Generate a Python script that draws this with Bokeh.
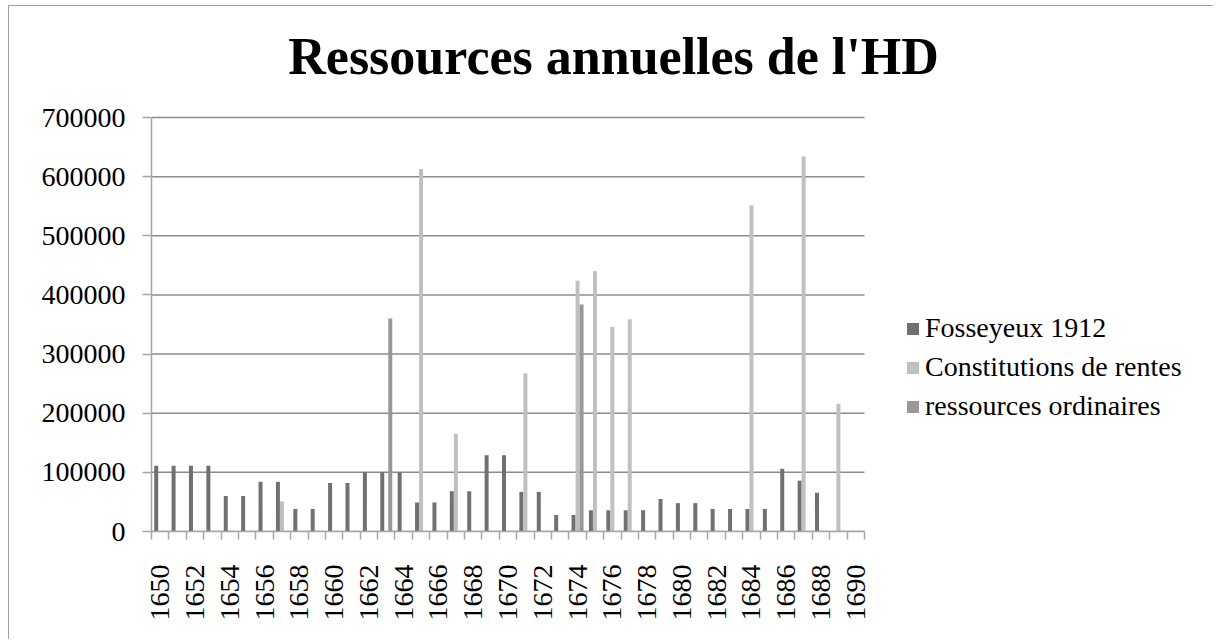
import math
from bokeh.plotting import figure
from bokeh.models import (ColumnDataSource, Range1d, FixedTicker, Legend, LegendItem,
                          BasicTickFormatter, Label)
from bokeh.transform import dodge
from bokeh.embed import file_html
from bokeh.resources import INLINE

nan = float("nan")

years = list(range(1650, 1691))
fosseyeux = [111000, 111000, 111000, 111000, 60000, 60000, 84000, 84000, 38000, 38000,
             82000, 82000, 100000, 100000, 100000, 49000, 49000, 68000, 68000, 129000,
             129000, 67000, 67000, 28000, 28000, 36000, 36000, 36000, 36000, 55000,
             48000, 48000, 38000, 38000, 38000, 38000, 106000, 86000, 65500, nan, nan]
rentes = {1657: 51000, 1665: 613000, 1667: 165000, 1671: 267000, 1674: 424000,
          1675: 440000, 1676: 346000, 1677: 359000, 1684: 551000, 1687: 634000,
          1689: 216000}
ordinaires = {1663: 360000, 1674: 384000}

series_names = ["Fosseyeux 1912", "Constitutions de rentes", "ressources ordinaires"]
series_colors = ["#707070", "#c0c0c0", "#989898"]
y_ticks = list(range(0, 700001, 100000))
x_label_years = list(range(1650, 1691, 2))
title_text = "Ressources annuelles de l'HD"

src = ColumnDataSource(dict(
    year=years,
    fos=fosseyeux,
    ren=[rentes.get(y, nan) for y in years],
    ordi=[ordinaires.get(y, nan) for y in years],
))

FONT = "Liberation Serif"

# ---- layout (pixels) ----
W, H = 1205, 634
BL, BR, BT, BB = 142, 5, 0, 109      # borders around the frame
PLOT_W = 713                         # width of the visible plot area
PLOT_TOP = 111                       # canvas y of the top of the value axis
frame_w = W - BL - BR
frame_h = H - BT - BB
x0, x1 = years[0] - 0.5, years[-1] + 0.5
y_max = y_ticks[-1]
x_end = x0 + (x1 - x0) * frame_w / PLOT_W
y_end = y_max * frame_h / (frame_h - (PLOT_TOP - BT))

p = figure(width=W, height=H, output_backend="svg", toolbar_location=None,
           x_range=Range1d(x0, x_end), y_range=Range1d(0, y_end),
           min_border_left=BL, min_border_right=BR, min_border_top=BT,
           min_border_bottom=BB)
p.styles = {"margin-left": "8px", "margin-top": "5px",
            "border-left": "1px solid #a0a0a0", "border-top": "1px solid #a0a0a0"}
p.outline_line_color = None
p.background_fill_color = "white"
p.border_fill_color = "white"
p.xgrid.visible = False
p.ygrid.visible = False

# horizontal gridlines limited to the plot area
p.segment(x0=[x0] * len(y_ticks), x1=[x1] * len(y_ticks), y0=y_ticks, y1=y_ticks,
          line_color="#8c8c8c", line_width=1.5)

bw = 0.23
renderers = []
for col, off, color in zip(["fos", "ren", "ordi"], [-bw, 0.0, bw], series_colors):
    r = p.vbar(x=dodge("year", off, range=p.x_range), top=col, width=bw, source=src,
               fill_color=color, line_color=None)
    renderers.append(r)

# y axis
ya = p.yaxis[0]
ya.bounds = (0, y_max)
ya.ticker = FixedTicker(ticks=y_ticks)
ya.formatter = BasicTickFormatter(use_scientific=False)
ya.axis_line_color = "#a6a6a6"
ya.axis_line_width = 1.5
ya.major_tick_line_color = "#a6a6a6"
ya.major_tick_line_width = 1.5
ya.major_tick_out = 9
ya.major_tick_in = 0
ya.minor_tick_line_color = None
ya.major_label_standoff = 17
ya.major_label_text_font = FONT
ya.major_label_text_font_size = "28px"
ya.major_label_text_color = "black"

# x axis
xa = p.xaxis[0]
xa.bounds = (x0, x1)
xa.ticker = FixedTicker(ticks=x_label_years,
                        minor_ticks=[y - 0.5 for y in years] + [x1])
xa.axis_line_color = "#a6a6a6"
xa.axis_line_width = 1.5
xa.major_tick_line_color = None
xa.major_tick_out = 0
xa.major_tick_in = 0
xa.minor_tick_line_color = "#a6a6a6"
xa.minor_tick_line_width = 1.5
xa.minor_tick_out = 8
xa.minor_tick_in = 0
xa.major_label_orientation = math.pi / 2
xa.major_label_standoff = 25
xa.major_label_text_font = FONT
xa.major_label_text_font_size = "28px"
xa.major_label_text_color = "black"

# title (centered at canvas x ~602, above the plot area)
title = Label(x=x0 + (604 - BL) * (x1 - x0) / PLOT_W, y=y_max, y_offset=61,
              text=title_text, text_font=FONT, text_font_size="52px",
              text_font_style="bold", text_align="center", text_baseline="alphabetic",
              text_color="black")
p.add_layout(title)

# legend
legend = Legend(items=[LegendItem(label=n, renderers=[r]) for n, r in zip(series_names, renderers)],
                location=(754, 109), orientation="vertical",
                label_text_font=FONT, label_text_font_size="28px", label_text_color="black",
                glyph_width=15, glyph_height=15, label_standoff=5, spacing=7,
                label_height=32, padding=0, margin=0,
                border_line_color=None, background_fill_alpha=0)
p.add_layout(legend)

open("out.html", "w").write(file_html(p, INLINE))
